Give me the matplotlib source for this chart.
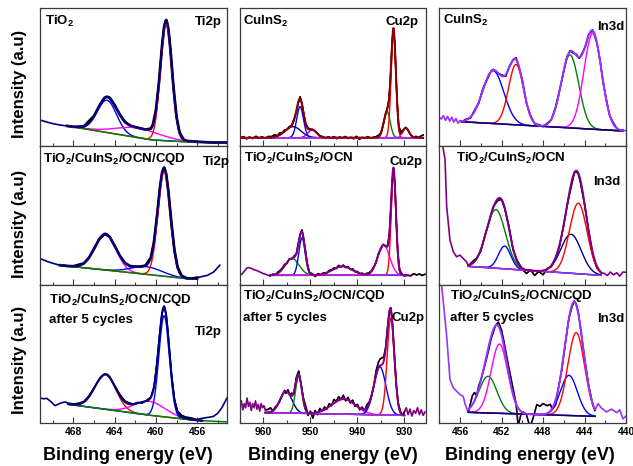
import numpy as np
import matplotlib
matplotlib.use('Agg')
import matplotlib.pyplot as plt
from matplotlib.ticker import MultipleLocator

plt.rcParams['font.family'] = ['Liberation Sans', 'DejaVu Sans']
plt.rcParams['mathtext.fontset'] = 'custom'
plt.rcParams['mathtext.rm'] = 'Liberation Sans:bold'
plt.rcParams['mathtext.it'] = 'Liberation Sans:bold'
plt.rcParams['mathtext.bf'] = 'Liberation Sans:bold'

# ---------------- data ----------------
ti_xlim = (471.25, 453.1)
cu_xlim = (965.0, 925.5)
in_xlim = (458.0, 440.0)

# Ti2p, TiO2
ti1_raw = [(471.25,18.8),(470.5,17.2),(470.0,16.2),(469.3,15.2),(468.6,14.5),(468.0,13.9),(467.0,14.1),
           (466.0,21.8),(465.5,28.9),(465.0,34.8),(464.75,35.7),(464.5,35.0),(464.0,29.6),(463.5,22.7),
           (463.0,17.4),(462.5,14.8),(462.0,13.6),(461.5,12.8),(461.0,11.9),(460.5,12.6),(460.3,15.2),
           (460.0,25.7),(459.7,46.3),(459.4,72.8),(459.2,86.4),(459.0,91.3),(458.8,85.1),(458.6,70.7),
           (458.3,42.9),(458.0,21.1),(457.7,9.6),(457.3,4.5),(457.0,3.7),(456.0,3.05),(455.0,2.7),
           (454.0,2.55),(453.1,2.4)]
ti1_base = [(468.6,14.5),(460.3,4.3),(457.0,3.0),(453.1,2.4)]
ti1_peaks = [(464.75,23.4,2.2),(461.7,7.0,5.0),(459.0,84.4,1.3)]

# Ti2p, TiO2/CuInS2/OCN/CQD
ti2_raw = [(471.25,18.7),(470.5,16.5),(470.0,15.3),(469.3,13.9),(468.5,13.3),(468.0,13.2),(467.0,15.2),
           (466.5,19.3),(466.0,25.8),(465.5,32.8),(465.0,36.4),(464.9,36.5),(464.5,34.5),(464.0,27.9),
           (463.5,20.7),(463.0,15.5),(462.5,13.3),(462.0,12.9),(461.5,12.9),(461.0,13.7),(460.5,19.2),
           (460.2,30.0),(459.9,48.7),(459.6,70.3),(459.4,80.7),(459.2,84.4),(459.0,79.5),(458.8,67.8),
           (458.5,44.7),(458.2,24.7),(457.9,12.5),(457.5,6.3),(457.0,4.5),(456.5,4.3),(456.0,4.9),
           (455.5,5.8),(455.0,6.6),(454.4,9.0),(453.8,13.9)]
ti2_base = [(469.3,13.9),(461.5,7.8),(457.0,4.2),(456.0,4.0)]
ti2_peaks = [(464.9,26.0,2.4),(460.9,5.5,3.5),(459.2,75.5,1.4)]

# Ti2p, after 5 cycles
ti3_raw = [(471.25,18.0),(470.9,17.5),(470.6,17.8),(470.2,15.5),(469.8,12.5),(469.5,13.5),(469.2,14.5),
           (468.8,15.2),(468.5,14.2),(468.0,13.8),(467.5,14.2),(467.0,15.5),(466.5,19.5),(466.0,25.5),
           (465.5,31.5),(465.0,35.3),(464.7,35.0),(464.5,33.5),(464.0,27.0),(463.5,20.5),(463.0,15.8),
           (462.6,14.5),(462.2,13.5),(461.8,14.8),(461.4,14.2),(461.0,15.8),(460.5,18.5),(460.2,25.5),
           (459.9,43.0),(459.6,66.5),(459.4,79.5),(459.2,84.5),(459.0,78.0),(458.8,62.5),(458.5,36.0),
           (458.2,17.0),(457.9,8.5),(457.5,5.5),(457.1,4.2),(456.7,3.8),(456.3,3.0),(456.0,2.4),
           (455.6,3.2),(455.2,3.8),(454.8,4.2),(454.4,4.8),(454.0,7.0),(453.6,11.0),(453.1,18.0)]
ti3_base = [(468.5,13.5),(460.2,5.2),(456.0,1.8),(453.1,0.8)]
ti3_peaks = [(464.9,25.0,2.4),(460.6,10.0,3.5),(459.2,73.0,1.2)]

# Cu2p, CuInS2
cu1_raw = [(965.0,5.6),(964.3,6.8),(963.6,5.2),(963.0,6.5),(962.3,5.4),(961.6,7.0),(961.0,5.8),(960.3,6.6),
           (959.6,5.5),(959.0,6.9),(958.3,6.8),(957.6,8.2),(957.0,7.4),(956.5,9.6),(956.0,9.5),(955.5,11.5),
           (955.0,12.0),(954.5,14.0),(954.0,15.0),(953.5,19.5),(953.0,25.0),(952.6,31.0),(952.2,35.7),
           (951.8,31.0),(951.4,23.0),(951.0,16.0),(950.5,13.0),(950.0,12.0),(949.5,11.8),(949.0,10.5),
           (948.5,9.2),(948.0,7.3),(947.4,6.8),(946.8,5.5),(946.2,6.7),(945.6,5.6),(945.0,6.8),(944.4,5.3),
           (943.8,6.5),(943.2,5.8),(942.6,6.9),(942.0,5.4),(941.4,6.3),(940.8,5.2),(940.2,7.0),(939.6,4.8),
           (939.0,6.2),(938.4,5.6),(937.8,6.8),(937.2,5.5),(936.6,6.3),(936.0,6.8),(935.5,7.8),(935.0,9.5),
           (934.5,15.5),(934.0,23.0),(933.7,26.0),(933.3,33.0),(933.0,47.0),(932.6,76.0),(932.3,85.3),
           (932.0,71.0),(931.6,36.0),(931.2,14.5),(930.8,10.5),(930.4,11.0),(930.0,12.5),(929.7,13.5),
           (929.3,12.0),(929.0,10.0),(928.5,7.5),(928.0,6.2),(927.5,7.0),(927.0,6.0),(926.5,7.2),(926.0,8.0)]
cu1_base = [(963.5,6.0),(927.0,6.0)]
cu1_peaks = [(953.7,8.0,4.0),(952.2,22.5,1.7),(949.6,5.6,2.2),(933.7,19.0,1.6),(932.3,77.0,1.2),(929.7,7.0,1.6)]

# Cu2p, TiO2/CuInS2/OCN
cu2_raw = [(965.0,6.6),(964.5,7.8),(964.0,10.0),(963.5,12.0),(963.0,12.2),(962.5,11.5),(962.0,10.6),
           (961.5,10.2),(961.0,9.4),(960.5,8.6),(960.0,7.8),(959.5,7.3),(959.0,6.6),(958.6,6.2),(958.0,7.5),
           (957.4,7.0),(957.0,8.8),(956.5,10.0),(956.0,11.8),(955.5,14.5),(955.0,15.2),(954.5,18.5),
           (954.0,18.2),(953.5,20.5),(953.0,22.0),(952.5,31.0),(952.1,37.0),(951.8,39.4),(951.5,34.0),
           (951.1,25.0),(950.7,15.5),(950.2,8.5),(949.6,7.8),(949.0,5.8),(948.4,7.9),(947.8,6.8),(947.2,8.5),
           (946.6,8.2),(946.0,10.2),(945.5,10.5),(945.0,12.0),(944.5,11.5),(944.0,13.8),(943.5,12.5),
           (943.0,14.0),(942.5,12.2),(942.0,13.0),(941.5,10.8),(941.0,11.3),(940.5,9.2),(940.0,9.4),
           (939.5,7.5),(939.0,8.2),(938.5,6.8),(938.0,8.0),(937.5,8.5),(937.0,10.0),(936.5,12.8),(936.0,16.0),
           (935.5,22.5),(935.0,25.5),(934.5,29.0),(934.0,27.5),(933.6,28.0),(933.2,36.0),(932.9,53.0),
           (932.6,74.0),(932.3,84.4),(932.0,71.0),(931.7,45.0),(931.4,23.0),(931.0,10.5),(930.5,7.5),
           (930.0,6.2),(929.3,6.9),(928.7,6.2),(928.0,7.8),(927.4,6.9),(926.8,7.6),(926.2,6.5),(925.6,7.4)]
cu2_base = [(958.6,6.6),(929.3,6.6)]
cu2_peaks = [(953.9,12.2,3.5),(951.8,27.0,1.6),(943.2,6.5,5.0),(934.4,22.0,3.0),(932.3,72.0,1.2)]

# Cu2p, after 5 cycles
cu3_raw = [(965.0,12.0),(964.7,16.0),(964.4,9.5),(964.1,14.0),(963.8,11.0),(963.5,18.0),(963.2,12.0),
           (962.9,15.0),(962.6,9.0),(962.3,14.0),(962.0,11.0),(961.7,16.0),(961.4,10.0),(961.1,13.5),
           (960.8,8.5),(960.5,14.0),(960.2,11.0),(959.9,12.5),(959.6,9.5),(959.0,9.8),(958.5,11.0),
           (958.0,8.6),(957.5,11.5),(957.0,13.0),(956.5,16.0),(956.0,20.0),(955.5,23.5),(955.2,21.5),
           (954.8,24.0),(954.4,20.0),(954.0,21.5),(953.5,21.0),(953.0,33.0),(952.5,37.5),(952.0,28.0),
           (951.5,18.0),(951.0,12.0),(950.5,5.5),(950.0,8.5),(949.5,3.5),(949.0,9.0),(948.5,6.0),
           (948.0,10.5),(947.5,8.5),(947.0,11.5),(946.5,10.0),(946.0,14.0),(945.5,12.5),(945.0,17.0),
           (944.5,15.5),(944.0,19.0),(943.5,17.0),(943.0,20.0),(942.5,16.0),(942.0,18.5),(941.5,14.5),
           (941.0,16.5),(940.5,12.0),(940.0,13.5),(939.5,9.5),(939.0,11.5),(938.5,8.5),(938.0,13.0),
           (937.5,15.0),(937.0,20.0),(936.5,27.0),(936.0,38.0),(935.5,44.0),(935.2,46.0),(934.8,47.0),
           (934.4,47.5),(934.0,54.0),(933.6,68.0),(933.2,80.0),(932.9,83.3),(932.5,70.0),(932.1,48.0),
           (931.7,27.0),(931.3,14.0),(930.8,8.0),(930.3,5.5),(930.0,8.0),(929.6,11.0),(929.2,6.0),
           (928.8,10.0),(928.4,5.0),(928.0,9.0),(927.6,7.0),(927.2,11.0),(926.8,6.0),(926.4,9.5),
           (926.0,5.5),(925.6,8.0)]
cu3_base = [(959.6,7.5),(930.0,5.5)]
cu3_peaks = [(955.2,15.7,3.0),(952.5,26.6,1.6),(942.9,10.9,6.0),(935.2,34.7,3.0),(932.9,70.0,1.8)]

# In3d, CuInS2
in1_raw = [(458.0,21.0),(457.8,19.5),(457.6,22.0),(457.4,18.5),(457.2,21.5),(457.0,18.0),(456.8,20.8),
           (456.6,17.2),(456.4,20.0),(456.2,16.5),(456.0,18.5),(455.85,17.5),(455.4,19.5),(455.0,20.2),
           (454.6,26.0),(454.2,31.0),(453.8,41.5),(453.4,48.0),(453.0,54.5),(452.8,55.5),(452.4,53.0),
           (452.0,51.5),(451.6,50.5),(451.2,58.5),(450.9,62.0),(450.6,64.0),(450.3,56.5),(450.0,48.0),
           (449.6,31.0),(449.2,22.0),(448.8,16.0),(448.4,15.5),(448.0,14.0),(447.6,16.5),(447.2,19.0),
           (446.8,28.0),(446.4,40.5),(446.0,54.0),(445.7,64.5),(445.4,69.0),(445.1,67.5),(444.8,66.5),
           (444.5,63.5),(444.2,67.5),(443.9,72.5),(443.6,81.0),(443.2,84.0),(442.8,74.5),(442.5,62.0),
           (442.2,45.5),(441.9,34.0),(441.6,22.5),(441.2,16.5),(440.8,11.8),(440.3,11.5),(440.0,11.0)]
in1_base = [(455.85,17.6),(440.3,10.9)]
in1_peaks = [(452.8,38.3,2.4),(450.6,43.8,1.7),(445.4,52.8,2.0),(443.2,69.6,2.0)]

# In3d, TiO2/CuInS2/OCN
in2_raw = [(457.8,110.0),(457.67,100.0),(457.45,90.5),(457.29,56.4),(456.97,32.0),(456.65,23.6),
           (456.33,20.0),(456.0,21.2),(455.7,18.8),(455.37,16.3),(455.2,13.5),(454.8,16.5),(454.4,19.0),
           (454.0,24.0),(453.6,35.5),(453.2,45.0),(452.8,56.0),(452.4,60.5),(452.0,61.5),(451.7,55.0),
           (451.3,42.5),(450.9,25.5),(450.5,17.5),(450.0,11.0),(449.6,8.0),(449.2,10.5),(448.8,6.5),
           (448.4,9.5),(448.0,7.0),(447.6,11.5),(447.2,13.0),(446.8,19.0),(446.4,28.0),(446.0,43.0),
           (445.7,56.0),(445.4,67.0),(445.0,80.0),(444.85,82.0),(444.6,80.0),(444.4,74.0),(444.0,58.0),
           (443.6,38.5),(443.2,21.0),(442.8,12.0),(442.4,8.5),(442.1,8.0),(441.8,6.5),(441.5,9.0),
           (441.2,7.0),(440.9,8.5),(440.6,6.0),(440.3,9.0),(440.0,8.8)]
in2_base = [(455.2,13.1),(442.4,6.6)]
in2_peaks = [(452.55,42.3,2.2),(451.7,16.4,1.4),(445.3,28.2,2.3),(444.6,51.0,2.0)]

# In3d, after 5 cycles
in3_raw = [(457.9,110.0),(457.77,99.0),(457.29,62.8),(456.97,31.4),(456.65,25.4),(456.33,22.9),
           (456.0,20.5),(455.7,19.3),(455.5,13.3),(455.2,7.7),(455.0,14.0),(454.8,20.0),(454.6,22.0),
           (454.4,19.5),(454.2,27.0),(454.0,31.0),(453.6,42.0),(453.3,51.0),(453.0,61.0),(452.6,70.0),
           (452.3,72.9),(452.0,67.0),(451.8,60.0),(451.4,44.0),(451.0,29.0),(450.6,14.0),(450.4,-2.0),
           (450.1,7.0),(449.9,8.0),(449.6,6.0),(449.25,-3.0),(448.9,5.0),(448.6,13.3),(448.3,12.0),
           (448.0,14.0),(447.6,12.5),(447.3,13.5),(447.1,10.0),(446.8,13.0),(446.6,22.0),(446.2,38.0),
           (445.8,60.0),(445.5,76.0),(445.2,84.0),(445.0,88.1),(444.8,86.0),(444.6,80.0),(444.3,64.0),
           (444.0,47.0),(443.6,27.0),(443.2,13.0),(443.0,9.0),(442.7,14.0),(442.4,11.0),(441.9,8.0),
           (441.4,10.0),(440.9,7.5),(440.6,9.5),(440.3,3.0),(440.0,5.0)]
in3_base = [(455.2,7.7),(443.0,4.8)]
in3_peaks = [(453.3,26.5,2.0),(452.2,50.0,1.9),(445.5,29.0,1.9),(444.8,60.0,1.9)]

sample_labels = ['TiO$_2$', 'CuInS$_2$', 'CuInS$_2$',
                 'TiO$_2$/CuInS$_2$/OCN/CQD', 'TiO$_2$/CuInS$_2$/OCN', 'TiO$_2$/CuInS$_2$/OCN',
                 'TiO$_2$/CuInS$_2$/OCN/CQD', 'TiO$_2$/CuInS$_2$/OCN/CQD', 'TiO$_2$/CuInS$_2$/OCN/CQD']
core_labels = ['Ti2p', 'Cu2p', 'In3d']

# ---------------- styling ----------------
NAVY = '#000080'; GREEN = '#008000'; BLUE = '#0000FF'; RED = '#FF0000'
MAG = '#FF00FF'; PURPLE = '#800080'; VIOLET = '#9933FF'; MAROON = '#8B0000'; PURP2 = '#9900CC'

W, H = 633, 466
fig = plt.figure(figsize=(W/100, H/100), dpi=100)

def fx(px): return px / W
def fy(py): return 1 - py / H

cols = [(40, 227), (240, 425.5), (439.3, 626)]
rows = [(8, 146), (146, 284.5), (284.5, 423)]

panels = [
    dict(r=0, c=0, raw=ti1_raw, base=ti1_base, peaks=ti1_peaks, pc=[BLUE, MAG, RED],
         fit=(468.6, 453.1), blk=(468.6, 453.1), env=NAVY, out=NAVY, bc=GREEN),
    dict(r=1, c=0, raw=ti2_raw, base=ti2_base, peaks=ti2_peaks, pc=[MAG, BLUE, RED],
         fit=(469.3, 456.0), blk=(469.3, 456.0), env=NAVY, out=NAVY, bc=GREEN),
    dict(r=2, c=0, raw=ti3_raw, base=ti3_base, peaks=ti3_peaks, pc=[RED, MAG, BLUE],
         fit=(468.5, 455.5), blk=(468.5, 455.5), env=NAVY, out=NAVY, bc=GREEN),
    dict(r=0, c=1, raw=cu1_raw, base=cu1_base, peaks=cu1_peaks, pc=[NAVY, BLUE, PURP2, GREEN, RED, MAG],
         fit=(965.0, 926.0), blk=(965.0, 926.0), env=MAROON, out=MAROON, bc=VIOLET),
    dict(r=1, c=1, raw=cu2_raw, base=cu2_base, peaks=cu2_peaks, pc=[GREEN, BLUE, PURPLE, MAG, RED],
         fit=(958.6, 929.3), blk=(958.6, 925.5), env=PURPLE, out=PURPLE, bc=VIOLET),
    dict(r=2, c=1, raw=cu3_raw, base=cu3_base, peaks=cu3_peaks, pc=[NAVY, GREEN, MAG, BLUE, RED],
         fit=(959.6, 930.0), blk=(959.6, 930.0), env=PURPLE, out=PURPLE, bc=VIOLET),
    dict(r=0, c=2, raw=in1_raw, base=in1_base, peaks=in1_peaks, pc=[BLUE, RED, GREEN, MAG],
         fit=(455.85, 440.3), blk=(455.85, 440.3), env=VIOLET, out=VIOLET, bc=NAVY),
    dict(r=1, c=2, raw=in2_raw, base=in2_base, peaks=in2_peaks, pc=[GREEN, BLUE, NAVY, RED],
         fit=(455.2, 442.4), blk=(455.2, 442.4), env=PURPLE, out=PURPLE, bc=VIOLET),
    dict(r=2, c=2, raw=in3_raw, base=in3_base, peaks=in3_peaks, pc=[GREEN, MAG, BLUE, RED],
         fit=(455.2, 443.0), blk=(455.2, 443.0), env=VIOLET, out=VIOLET, bc=NAVY),
]

xlims = [ti_xlim, cu_xlim, in_xlim]
majors = [4, 10, 4]
minors = [2, 5, 2]
SPINE = '#3a3a3a'

def gauss(x, c, h, w):
    return h * np.exp(-4 * np.log(2) * (x - c) ** 2 / w ** 2)

axes = {}
for p in panels:
    r, c = p['r'], p['c']
    x0, x1 = cols[c]
    y0, y1 = rows[r]
    ax = fig.add_axes([fx(x0), fy(y1), (x1 - x0) / W, (y1 - y0) / H])
    axes[(r, c)] = ax
    raw = np.array(p['raw'])
    ex, iy = raw[:, 0], raw[:, 1]
    # full raw trace (outside-fit colour)
    ax.plot(ex, iy, color=p['out'], lw=1.2, zorder=1)
    lo, hi = min(p['blk']), max(p['blk'])
    m = (ex >= lo - 1e-9) & (ex <= hi + 1e-9)
    blw = 2.0 if c == 0 and r < 2 else 1.0
    ax.plot(ex[m], iy[m], color='black', lw=blw, zorder=2)
    # fit components
    flo, fhi = min(p['fit']), max(p['fit'])
    xs = np.linspace(flo, fhi, 600)
    bpts = np.array(p['base'])
    border = np.argsort(bpts[:, 0])
    bx, by = bpts[border, 0], bpts[border, 1]
    bline = np.interp(xs, bx, by)
    total = bline.copy()
    for (cen, hgt, fw), col in zip(p['peaks'], p['pc']):
        g = gauss(xs, cen, hgt, fw)
        total += g
        ax.plot(xs, bline + g, color=col, lw=1.0, zorder=3)
    bxs = np.linspace(bx.min(), bx.max(), 200)
    ax.plot(bxs, np.interp(bxs, bx, by), color=p['bc'], lw=1.1, zorder=4)
    ax.plot(xs, total, color=p['env'], lw=1.4, zorder=5)

    ax.set_xlim(*xlims[c])
    ax.set_ylim(0, 100)
    ax.set_yticks([])
    ax.xaxis.set_major_locator(MultipleLocator(majors[c]))
    ax.xaxis.set_minor_locator(MultipleLocator(minors[c]))
    ax.tick_params(axis='x', which='major', direction='in', length=4.5, width=0.8, color=SPINE,
                   labelsize=7.5, pad=3, labelbottom=(r == 2))
    ax.tick_params(axis='x', which='minor', direction='in', length=2.5, width=0.8, color=SPINE)
    for s in ax.spines.values():
        s.set_color(SPINE)
        s.set_linewidth(0.9)
    if r == 2:
        for t in ax.get_xticklabels():
            t.set_fontweight('bold')

# ---- annotations ----
FS = 9.5
def label(x, top, s):
    fig.text(fx(x), fy(top + 9.5), s, fontsize=FS, fontweight='bold', ha='left', va='baseline')

label(45, 15, sample_labels[0]); label(195, 15, core_labels[0])
label(243, 15, sample_labels[1]); label(385, 15, core_labels[1])
label(443, 14, sample_labels[2]); label(597, 20, core_labels[2])

label(43, 152, sample_labels[3]); label(203, 156, core_labels[0])
label(244, 152, sample_labels[4]); label(390, 155, core_labels[1])
label(456, 152, sample_labels[5]); label(593, 175, core_labels[2])

label(49, 294, sample_labels[6]); label(49, 314, 'after 5 cycles'); label(195, 326, core_labels[0])
label(243, 289, sample_labels[7]); label(243, 311, 'after 5 cycles'); label(392, 312, core_labels[1])
label(450, 289, sample_labels[8]); label(450, 312, 'after 5 cycles'); label(597, 312, core_labels[2])

for yc in [83.5, 224, 360]:
    fig.text(fx(20), fy(yc), 'Intensity (a.u)', rotation=90, fontsize=12, fontweight='bold',
             ha='center', va='center')
for xc in [128, 333, 530]:
    fig.text(fx(xc), fy(455), 'Binding energy (eV)', fontsize=13, fontweight='bold',
             ha='center', va='center')

fig.savefig('out.png', dpi=100)
